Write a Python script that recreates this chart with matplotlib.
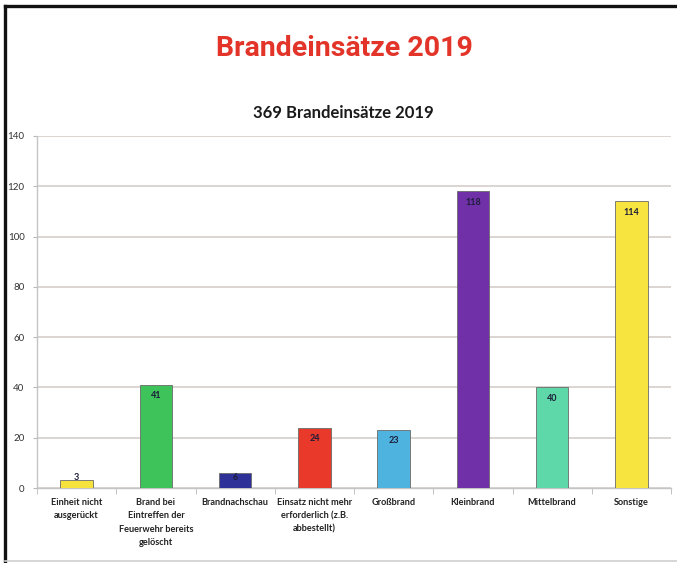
import matplotlib.pyplot as plt
from matplotlib.lines import Line2D
import numpy as np

categories = [
    "Einheit nicht\nausgerückt",
    "Brand bei\nEintreffen der\nFeuerwehr bereits\ngelöscht",
    "Brandnachschau",
    "Einsatz nicht mehr\nerforderlich (z.B.\nabbestellt)",
    "Großbrand",
    "Kleinbrand",
    "Mittelbrand",
    "Sonstige",
]
counts = [3, 41, 6, 24, 23, 118, 40, 114]
bar_colors = ["#f5e23c", "#3ec35a", "#2e3198", "#e8392a",
              "#4fb3e0", "#7030a8", "#5ed8a8", "#f7e43e"]
y_ticks = [0, 20, 40, 60, 80, 100, 120, 140]

fig = plt.figure(figsize=(6.77, 5.63), dpi=100)
fig.patch.set_facecolor("white")

# outer frame: heavy black on top and left, faint grey at the bottom
fig.add_artist(Line2D([5 / 677, 5 / 677], [0, 1 - 6 / 563], color="#111111", lw=2.4,
                      transform=fig.transFigure, solid_capstyle="projecting"))
fig.add_artist(Line2D([5 / 677, 1], [1 - 6 / 563, 1 - 6 / 563], color="#111111", lw=2.4,
                      transform=fig.transFigure, solid_capstyle="projecting"))
fig.add_artist(Line2D([5 / 677, 1], [2 / 563, 2 / 563], color="#d0d0d0", lw=1.2,
                      transform=fig.transFigure))

fig.text(344 / 677, 1 - 49 / 563, "Brandeinsätze 2019", color="#e3342a",
         fontsize=20.5, fontweight="bold", ha="center", va="center", family="Roboto")
fig.text(343 / 677, 1 - 113 / 563, "369 Brandeinsätze 2019", color="#1a1a1a",
         fontsize=12, fontweight="bold", ha="center", va="center", family="Lato")

ax = fig.add_axes([37 / 677, 75 / 563, 634 / 677, 352 / 563])
x = np.arange(len(counts))
ax.bar(x, counts, width=0.41, color=bar_colors, edgecolor="#6a6a6a",
       linewidth=0.6, zorder=3)

for xi, v in zip(x, counts):
    ax.text(xi, max(v - 4.3, 4.2), str(v), ha="center", va="center",
            fontsize=6.5, color="#1d1d3a", fontweight="bold", family="Lato", zorder=4)

ax.set_xlim(-0.5, len(counts) - 0.5)
ax.set_ylim(0, 140)
ax.set_yticks(y_ticks)
ax.set_yticklabels([str(t) for t in y_ticks], fontsize=7, color="#333333",
                   family="Lato")
ax.yaxis.grid(True, color="#d8d2ce", linewidth=1.3, zorder=0)
ax.set_axisbelow(True)

# category labels sit at the bar centres, tick marks at the category borders
ax.set_xticks(x)
ax.set_xticklabels(categories, fontsize=6.6, color="#222222", linespacing=1.65,
                   family="Lato", fontweight="bold")
ax.tick_params(axis="x", length=0, pad=7)
ax.set_xticks(np.arange(-0.5, len(counts) + 0.5, 1), minor=True)
ax.tick_params(axis="x", which="minor", length=4, color="#b8b8b8", direction="out")
ax.tick_params(axis="y", length=3, color="#b8b8b8", pad=6)

for side in ["top", "right"]:
    ax.spines[side].set_visible(False)
for side in ["left", "bottom"]:
    ax.spines[side].set_color("#c4c4c4")
    ax.spines[side].set_linewidth(1.0)

fig.savefig("out.png", dpi=100, facecolor="white")
